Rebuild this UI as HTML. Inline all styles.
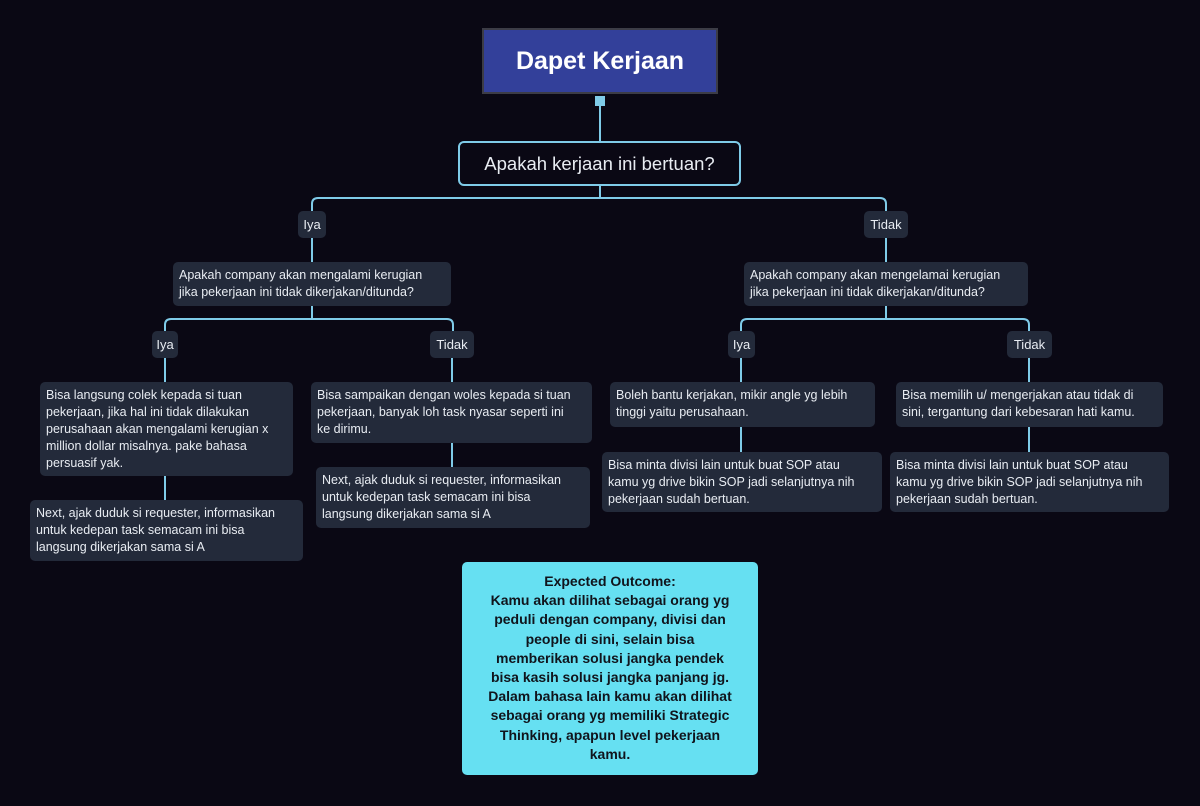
<!DOCTYPE html>
<html><head><meta charset="utf-8"><style>
*{margin:0;padding:0;box-sizing:border-box}
body{width:1200px;height:806px;background:#0a0814;position:relative;overflow:hidden;font-family:"Liberation Sans",sans-serif;color:#e8ecf2}
.b{position:absolute;background:#232a3a;border-radius:5px;font-size:12.5px;line-height:17px;padding:5px 6px;white-space:nowrap}
.l{position:absolute;background:#232a3a;border-radius:5px;font-size:13px;height:27px;line-height:27px;text-align:center}
svg{position:absolute;left:0;top:0}
</style></head><body>
<svg width="1200" height="806" fill="none" stroke="#7fcbe8" stroke-width="2">
<path d="M600 100V141M600 186V198M312 211V204Q312 198 318 198H880Q886 198 886 204V211"/>
<path d="M312 238V262M886 238V262"/>
<path d="M312 306V319M165 331V325Q165 319 171 319H447Q453 319 453 325V331M165 357V382M452 357V382M165 476V500M452 443V467"/>
<path d="M886 306V319M741 331V325Q741 319 747 319H1023Q1029 319 1029 325V331M741 357V382M1029 357V382M741 427V452M1029 427V452"/>
</svg>
<div style="position:absolute;left:482px;top:28px;width:236px;height:66px;background:#33409a;border:2px solid #3c3c46;color:#fff;font-size:25px;font-weight:bold;text-align:center;line-height:62px">Dapet Kerjaan</div>
<div style="position:absolute;left:595px;top:96px;width:10px;height:10px;background:#7fcbe8"></div>
<div style="position:absolute;left:458px;top:141px;width:283px;height:45px;border:2px solid #7fcbe8;border-radius:6px;background:#0a0814;font-size:18.5px;text-align:center;line-height:41px">Apakah kerjaan ini bertuan?</div>
<div class="l" style="left:298px;top:211px;width:28px">Iya</div>
<div class="l" style="left:864px;top:211px;width:44px">Tidak</div>
<div class="b" style="left:173px;top:262px;width:278px;height:44px">Apakah company akan mengalami kerugian<br>jika pekerjaan ini tidak dikerjakan/ditunda?</div>
<div class="b" style="left:744px;top:262px;width:284px;height:44px">Apakah company akan mengelamai kerugian<br>jika pekerjaan ini tidak dikerjakan/ditunda?</div>
<div class="l" style="left:152px;top:331px;width:26px">Iya</div>
<div class="l" style="left:430px;top:331px;width:44px">Tidak</div>
<div class="l" style="left:728px;top:331px;width:27px">Iya</div>
<div class="l" style="left:1007px;top:331px;width:45px">Tidak</div>
<div class="b" style="left:40px;top:382px;width:253px;height:94px">Bisa langsung colek kepada si tuan<br>pekerjaan, jika hal ini tidak dilakukan<br>perusahaan akan mengalami kerugian x<br>million dollar misalnya. pake bahasa<br>persuasif yak.</div>
<div class="b" style="left:30px;top:500px;width:273px;height:61px">Next, ajak duduk si requester, informasikan<br>untuk kedepan task semacam ini bisa<br>langsung dikerjakan sama si A</div>
<div class="b" style="left:311px;top:382px;width:281px;height:61px">Bisa sampaikan dengan woles kepada si tuan<br>pekerjaan, banyak loh task nyasar seperti ini<br>ke dirimu.</div>
<div class="b" style="left:316px;top:467px;width:274px;height:61px">Next, ajak duduk si requester, informasikan<br>untuk kedepan task semacam ini bisa<br>langsung dikerjakan sama si A</div>
<div class="b" style="left:610px;top:382px;width:265px;height:45px">Boleh bantu kerjakan, mikir angle yg lebih<br>tinggi yaitu perusahaan.</div>
<div class="b" style="left:602px;top:452px;width:280px;height:60px">Bisa minta divisi lain untuk buat SOP atau<br>kamu yg drive bikin SOP jadi selanjutnya nih<br>pekerjaan sudah bertuan.</div>
<div class="b" style="left:896px;top:382px;width:267px;height:45px">Bisa memilih u/ mengerjakan atau tidak di<br>sini, tergantung dari kebesaran hati kamu.</div>
<div class="b" style="left:890px;top:452px;width:279px;height:60px">Bisa minta divisi lain untuk buat SOP atau<br>kamu yg drive bikin SOP jadi selanjutnya nih<br>pekerjaan sudah bertuan.</div>
<div style="position:absolute;left:462px;top:562px;width:296px;height:213px;background:#66e0f2;border-radius:5px;color:#10141c;font-weight:bold;font-size:14px;line-height:19.2px;text-align:center;padding-top:10px">Expected Outcome:<br>Kamu akan dilihat sebagai orang yg<br>peduli dengan company, divisi dan<br>people di sini, selain bisa<br>memberikan solusi jangka pendek<br>bisa kasih solusi jangka panjang jg.<br>Dalam bahasa lain kamu akan dilihat<br>sebagai orang yg memiliki Strategic<br>Thinking, apapun level pekerjaan<br>kamu.</div>
</body></html>
